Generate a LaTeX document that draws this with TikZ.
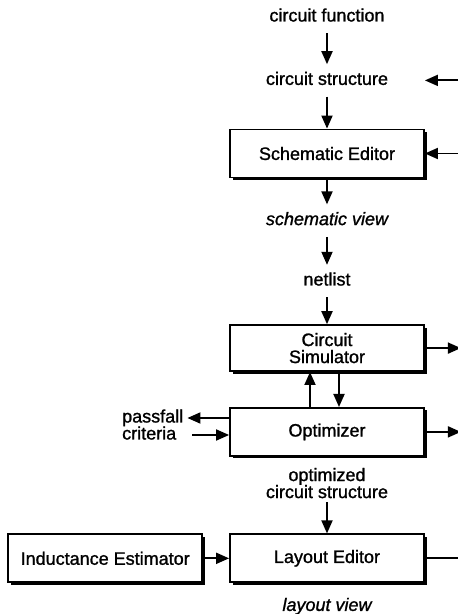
\documentclass[tikz,border=0pt]{standalone}
\usepackage{fontspec}
\setmainfont{Liberation Sans}[FakeBold=1.2]
\usetikzlibrary{positioning,arrows.meta,shadows}

\begin{document}
\begin{tikzpicture}[
    x=1pt, y=1pt,
    node distance=30pt,
    every node/.style={font=\fontsize{18}{17}\selectfont},
    flowtext/.style={text height=13pt, text depth=4pt, inner xsep=4pt, inner ysep=7.5pt},
    viewtext/.style={flowtext, font=\fontsize{18}{17}\selectfont\itshape},
    tool/.style={
        draw,
        line width=1.8pt,
        fill=white,
        minimum width=194pt,
        minimum height=48pt,
        align=center,
        drop shadow={opacity=1, fill=black, shadow xshift=2.5pt, shadow yshift=-2.5pt}
    },
    arrow/.style={-{Triangle[length=13pt,width=11pt]}, line width=1.8pt}
]
\useasboundingbox (0,0) rectangle (458,614);

% Main column, from the top down
\node[flowtext] (func) at (327,597) {circuit function};
\node[flowtext, below=31pt of func] (struct) {circuit structure};
\node[tool, below=32pt of struct] (sched) {Schematic Editor};
\node[viewtext, below=26pt of sched] (schview) {schematic view};
\node[flowtext, below=28pt of schview] (netlist) {netlist};
\node[tool, below=27pt of netlist, minimum height=46pt] (sim) {Circuit\\Simulator};
\node[tool, below=35pt of sim] (opt) {Optimizer};
\node[align=center, inner sep=4pt, below=7pt of opt] (optstruct) {optimized\\circuit structure};
\node[tool, below=31pt of optstruct] (lay) {Layout Editor};
\node[viewtext, below=7pt of lay] (layview) {layout view};

% Left side
\node[tool, left=26pt of lay] (induct) {Inductance Estimator};
\node[flowtext, anchor=west] (passfail) at (118,196) {passfall};
\node[flowtext, anchor=west] (criteria) at (118,179) {criteria};

% Loose ends on the right border
\coordinate[right=35pt of sched] (schin);
\coordinate (structin) at (schin |- struct);
\coordinate (structtip) at (sched.east |- struct);
\coordinate[right=36pt of sim] (simout);
\coordinate[right=36pt of opt] (optout);
\coordinate[right=36pt of lay] (layend);

% Arrows down the column
\draw[arrow] (func) -- (struct);
\draw[arrow] (struct) -- (sched);
\draw[arrow] (sched) -- (schview);
\draw[arrow] (schview) -- (netlist);
\draw[arrow] (netlist) -- (sim);
\draw[arrow] ([xshift=-17pt]opt.north) -- ([xshift=-17pt]sim.south);
\draw[arrow] ([xshift=12pt]sim.south) -- ([xshift=12pt]opt.north);
\draw[arrow] (optstruct) -- (lay);
\draw[arrow] (induct) -- (lay);

% Side arrows
\draw[arrow] (structin) -- (structtip);
\draw[arrow] (schin) -- (sched);
\draw[arrow] (sim) -- (simout);
\draw[arrow] (opt) -- (optout);
\draw[line width=1.8pt] (lay) -- (layend);
\draw[arrow] (opt.west |- passfail) -- (passfail);
\draw[arrow, shorten <=12pt] (criteria) -- (criteria -| opt.west);

\end{tikzpicture}
\end{document}
